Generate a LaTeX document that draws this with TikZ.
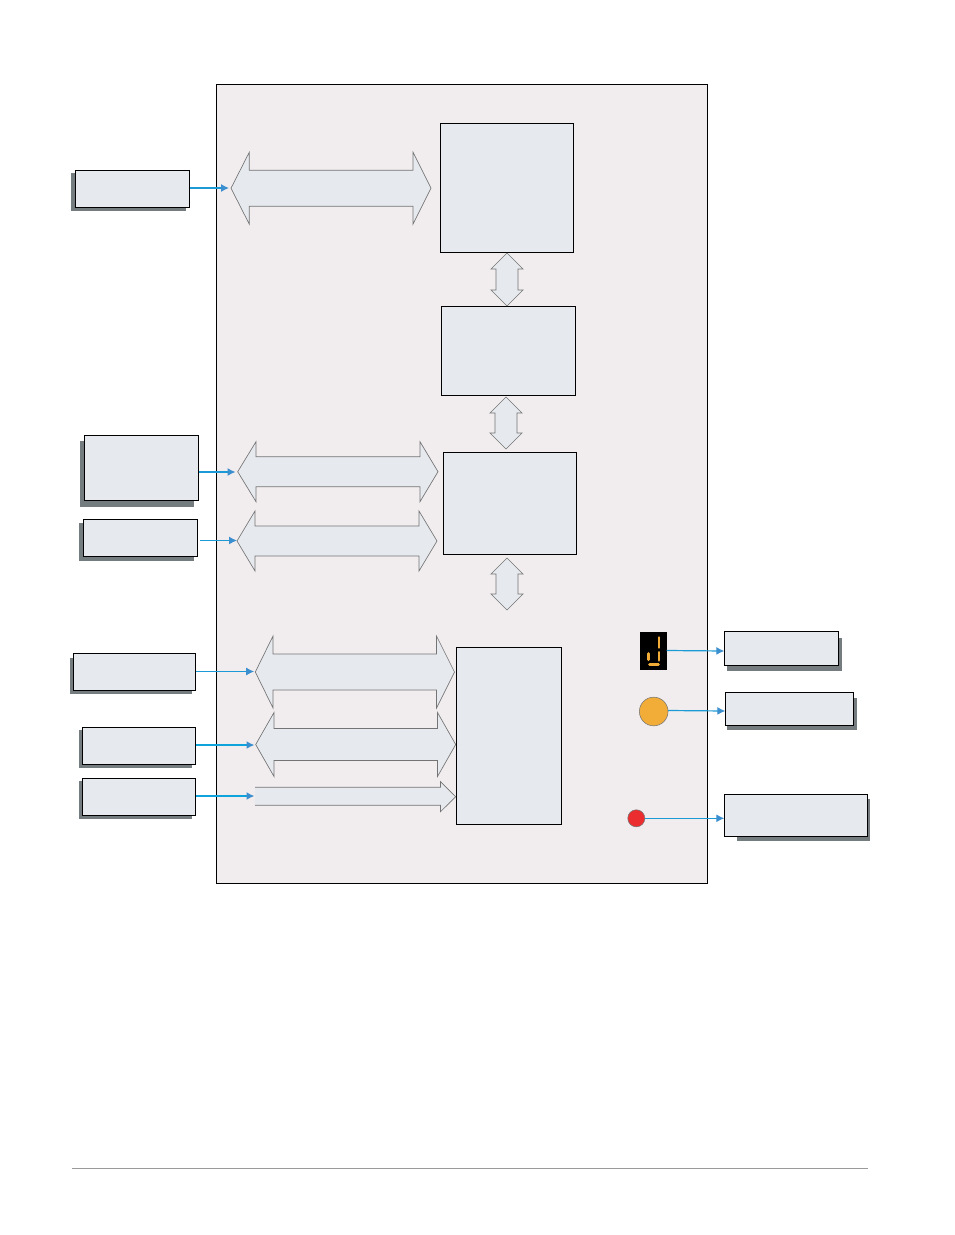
\documentclass[tikz,border=0pt]{standalone}
\usetikzlibrary{arrows.meta}
\definecolor{panelfill}{HTML}{F1EDEE}
\definecolor{boxfill}{HTML}{E6E9EE}
\definecolor{shadowgrey}{HTML}{757C80}
\definecolor{linkblue}{HTML}{1C9AD6}
\definecolor{thickblue}{HTML}{0FA3DC}
\definecolor{tipblue}{HTML}{3C8FCF}
\definecolor{busedge}{HTML}{747474}
\definecolor{rulegrey}{HTML}{9A9A9A}
\definecolor{amberled}{HTML}{F2AC38}
\definecolor{redled}{HTML}{EC2D2F}
\tikzset{
  panel/.style={draw=black,fill=panelfill,line width=0.6pt},
  blockbox/.style={draw=black,fill=boxfill,line width=0.7pt,inner sep=0pt,outer sep=0pt,anchor=north west},
  shadowbox/.style={fill=shadowgrey},
  busarrow/.style={draw=busedge,fill=boxfill,line width=0.5pt,line join=miter},
  feed/.style={draw=linkblue,line width=0.9pt,-{Latex[length=6pt,width=6pt,color=tipblue]}},
  feedthin/.style={feed,line width=0.65pt},
  feedthick/.style={feed,draw=thickblue,line width=1.5pt},
  segment/.style={draw=amberled,line width=2.2pt,line cap=round},
  lamp/.style={circle,draw=busedge,line width=0.4pt,inner sep=0pt,outer sep=0pt}
}
% A box with its offset drop shadow: name, left, top, right, bottom, then the shadow rectangle
\newcommand{\shadowedbox}[9]{%
  \fill[shadowbox] (#6,#7) rectangle (#8,#9);
  \pgfmathsetmacro{\boxw}{(#4-#2)*0.75}%
  \pgfmathsetmacro{\boxh}{(#5-#3)*0.75}%
  \node[blockbox,minimum width=\boxw pt,minimum height=\boxh pt] (#1) at (#2,#3) {};
}
% A plain block: name, left, top, right, bottom
\newcommand{\plainblock}[5]{%
  \pgfmathsetmacro{\boxw}{(#4-#2)*0.75}%
  \pgfmathsetmacro{\boxh}{(#5-#3)*0.75}%
  \node[blockbox,minimum width=\boxw pt,minimum height=\boxh pt] (#1) at (#2,#3) {};
}
% A double-headed horizontal bus: left tip x, shaft left x, shaft right x, right tip x, centre y, half shaft, half head
\newcommand{\hbus}[7]{%
  \draw[busarrow] (#1,#5) -- (#2,#5-#7) -- (#2,#5-#6) -- (#3,#5-#6) -- (#3,#5-#7) -- (#4,#5)
    -- (#3,#5+#7) -- (#3,#5+#6) -- (#2,#5+#6) -- (#2,#5+#7) -- cycle;
}
% The same bus standing upright: centre x, top tip, shaft top, shaft bottom, bottom tip, half shaft, half head
\newcommand{\vbus}[7]{%
  \draw[busarrow] (#1,#2) -- (#1+#7,#3) -- (#1+#6,#3) -- (#1+#6,#4) -- (#1+#7,#4) -- (#1,#5)
    -- (#1-#7,#4) -- (#1-#6,#4) -- (#1-#6,#3) -- (#1-#7,#3) -- cycle;
}
\begin{document}
\begin{tikzpicture}[x=0.75pt,y=-0.75pt]
\useasboundingbox (0,0) rectangle (954,1235);

% Enclosure
\draw[panel] (216.5,84.5) rectangle (707.5,883.5);

% Inner blocks
\plainblock{core}{440.3}{123.3}{573.5}{252.5}
\plainblock{mid}{441.3}{306.3}{575.5}{395.5}
\plainblock{low}{443.3}{452.3}{576.7}{554.5}
\plainblock{io}{456.3}{647.3}{561.7}{824.7}

% Vertical links between blocks
\vbus{507}{253}{269}{290}{306}{11}{16}
\vbus{506}{397}{413}{433}{449}{11}{16}
\vbus{507}{558}{574}{594}{610}{11}{16}

% Horizontal buses
\hbus{231}{249.3}{413}{431}{188.2}{18}{36}
\hbus{237.7}{256}{420}{438}{471.7}{15}{30}
\hbus{237}{255}{419}{437}{541}{15}{30}
\hbus{255.3}{273}{436.5}{454.5}{672}{18}{36}
\hbus{255.7}{274}{437.5}{455.7}{744.5}{16}{32}
\draw[busarrow] (255,787.3) -- (440.5,787.3) -- (440.5,781.7) -- (455.7,796.7) -- (440.5,811.7) -- (440.5,805.3) -- (255,805.3);

% Outer boxes on the left
\shadowedbox{boxa}{75.3}{170.3}{189.5}{207.5}{71}{173}{186}{211}
\shadowedbox{boxb}{84.3}{435.3}{198.5}{500.7}{80}{441}{194}{507}
\shadowedbox{boxc}{83.3}{519.3}{197.3}{556.7}{79}{523}{194}{561}
\shadowedbox{boxd}{73.3}{653.3}{195.7}{690.5}{70}{658}{192}{694}
\shadowedbox{boxe}{82.3}{727.3}{195.7}{764.7}{79}{730}{192}{768}
\shadowedbox{boxf}{82.3}{778.3}{195.7}{815.7}{79}{781}{192}{819}

% Outer boxes on the right
\shadowedbox{boxg}{724.3}{631.3}{838.7}{665.3}{727}{638}{842}{671}
\shadowedbox{boxh}{725.3}{692.3}{853.7}{725.7}{727}{698}{857}{729.5}
\shadowedbox{boxi}{724.3}{794.3}{867.7}{836.3}{737}{799}{870}{841}

% Seven-segment display
\node[fill=black,inner sep=0pt,outer sep=0pt,minimum width=20pt,minimum height=28.5pt,anchor=north west] (display) at (640,632) {};
\draw[segment] (659,637.5) -- (659,647.5);
\draw[segment] (659,652.3) -- (659,660.3);
\draw[segment] (648.4,653.5) -- (648.4,659.7);
\draw[segment] (649.5,664.3) -- (658.5,664.3);

% Indicator lamps
\node[lamp,fill=amberled,minimum size=21.5pt] (amber) at (653.7,711.5) {};
\node[lamp,fill=redled,minimum size=12.8pt] (red) at (636.3,818.3) {};

% Free ends of the connectors, at the bus tips
\coordinate (busa) at (229,188);
\coordinate (busb) at (235.5,472);
\coordinate (busc) at (237,540.5);
\coordinate (busd) at (254,671.5);
\coordinate (buse) at (254.5,745);
\coordinate (busf) at (254.5,796);
\coordinate (startc) at (200,540.5);

% Connectors
\draw[feed] (boxa.east |- busa) -- (busa);
\draw[feed] (boxb.east |- busb) -- (busb);
\draw[feed] (startc) -- (busc);
\draw[feedthin] (boxd.east |- busd) -- (busd);
\draw[feedthick] (boxe.east |- buse) -- (buse);
\draw[feedthick] (boxf.east |- busf) -- (busf);
\draw[feed] (display.east |- 0,650.5) -- (boxg.west |- 0,651);
\draw[feed] (amber.east |- 0,710.5) -- (boxh.west |- 0,711);
\draw[feed] (red.east) -- (boxi.west |- red.east);

% Footer rule
\draw[draw=rulegrey,line width=0.6pt] (72,1168.5) -- (868,1168.5);
\end{tikzpicture}
\end{document}
